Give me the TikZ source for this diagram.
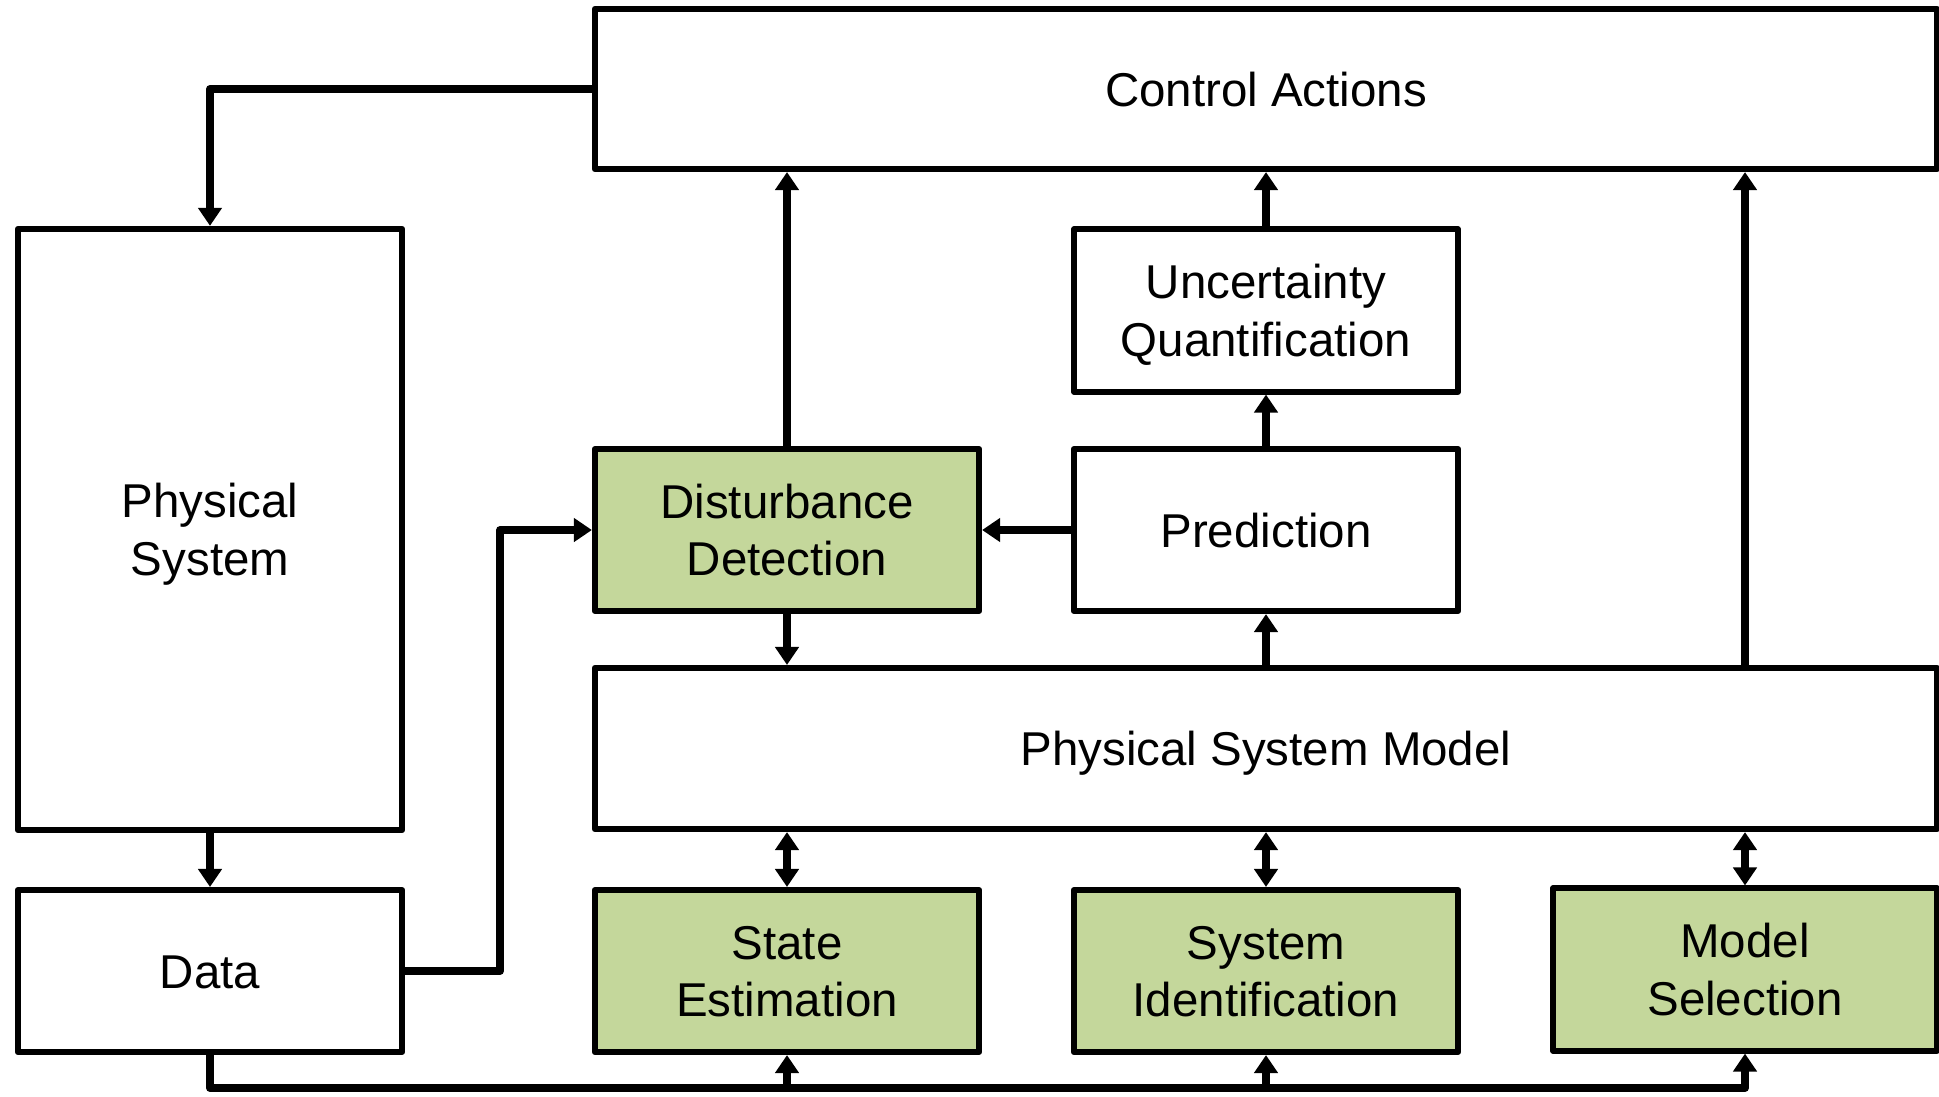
\documentclass[tikz,border=0pt]{standalone}
\usepackage{fontspec}
\setmainfont{Liberation Sans}
\usetikzlibrary{arrows.meta}
\definecolor{boxgreen}{RGB}{196,215,155}
\newcommand\twoline[2]{\rule{0pt}{0.95em}#1\\#2}

\begin{document}
\begin{tikzpicture}[x=0.01cm, y=-0.01cm, line join=round,
    box/.style={draw, rectangle, line width=0.06cm, minimum width=3.84cm,
      minimum height=1.62cm, inner sep=0pt, align=center,
      font=\fontsize{13.5}{16.3}\selectfont,
      execute at begin node={\rule{0pt}{0.95em}},
      execute at end node={\rule[-0.234em]{0pt}{0pt}}},
    pair/.style={execute at begin node={}, execute at end node={}},
    widebox/.style={box, minimum width=13.42cm, minimum height=1.6cm},
    greenbox/.style={box, fill=boxgreen},
    link/.style={line width=0.078cm, -{Triangle[width=0.23cm, length=0.18cm]}},
    twoway/.style={line width=0.078cm,
      {Triangle[width=0.23cm, length=0.18cm]}-{Triangle[width=0.23cm, length=0.18cm]}}]
    \useasboundingbox (0,0) rectangle (1939,1096);

    % Top bar and left column
    \node[widebox] (ctrl) at (1266,89) {Control Actions};
    \node[box, pair, minimum height=6.01cm] (plant) at (210,529.5) {\twoline{Physical}{System}};
    \node[box] (data) at (210,971) {Data};

    % Middle row
    \node[greenbox, pair] (detect) at (787,530) {\twoline{Disturbance}{Detection}};
    \node[box, pair] (uncert) at (1266,310.5) {\twoline{Uncertainty}{Quantification}};
    \node[box] (predict) at (1266,530) {Prediction};
    \node[widebox, minimum height=1.61cm] (model) at (1266,748.5) {Physical System Model};

    % Bottom row (estimation tasks)
    \node[greenbox, pair] (stest) at (787,971) {\twoline{State}{Estimation}};
    \node[greenbox, pair] (sysid) at (1266,971) {\twoline{System}{Identification}};
    \node[greenbox, pair] (modsel) at (1745,969.5) {\twoline{Model}{Selection}};

    % Loop through the physical system
    \draw[link] (ctrl.west) -| (plant.north);
    \draw[link] (plant.south) -- (data.north);
    \draw[link] (data.east) -- ++(95,0) |- (detect.west);

    % Paths up to the control actions
    \draw[link] (detect.north) -- (detect.north |- ctrl.south);
    \draw[link] (uncert.north) -- (ctrl.south);
    \draw[link] (modsel.north |- model.north) -- (modsel.north |- ctrl.south);
    \draw[link] (predict.north) -- (uncert.south);
    \draw[link] (predict.west) -- (detect.east);
    \draw[link] (model.north) -- (predict.south);
    \draw[link] (detect.south) -- (detect.south |- model.north);

    % Model <-> estimation tasks
    \foreach \task in {stest, sysid, modsel}
      \draw[twoway] (\task.north |- model.south) -- (\task.north);

    % Data bus along the bottom
    \draw[link] (data.south) -- ++(0,33) coordinate (bus) -| (modsel.south);
    \draw[link] (bus -| stest.south) -- (stest.south);
    \draw[link] (bus -| sysid.south) -- (sysid.south);
  \end{tikzpicture}
\end{document}
